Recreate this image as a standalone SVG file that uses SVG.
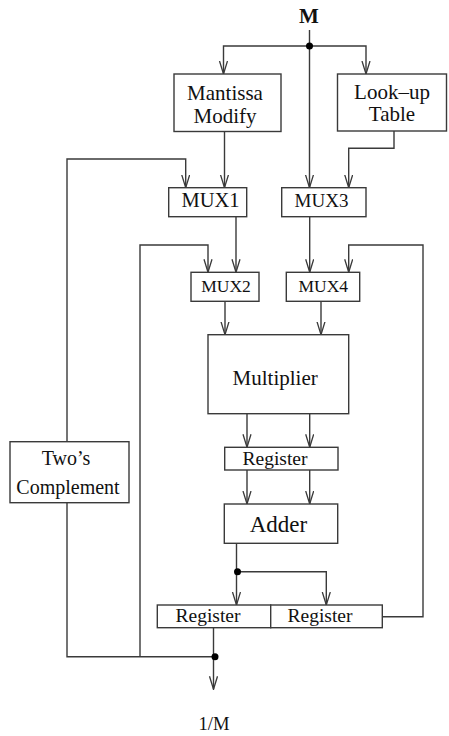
<svg xmlns="http://www.w3.org/2000/svg" width="449" height="736" viewBox="0 0 449 736">
<style>
.box{fill:#fff;stroke:#3a3a3a;stroke-width:1.4}
.wire{fill:none;stroke:#3a3a3a;stroke-width:1.4}
.t{font-family:"Liberation Serif","Times New Roman",serif;fill:#111;text-anchor:middle}
.dot{fill:#000}
</style>
<defs>
<marker id="arr" markerUnits="userSpaceOnUse" markerWidth="14" markerHeight="10" refX="13" refY="4.5" orient="auto" viewBox="0 0 14 10">
<path d="M0,0.5 L13,4.5 L0,8.5" fill="none" stroke="#3a3a3a" stroke-width="1.3"/>
</marker>
</defs>
<rect width="449" height="736" fill="#fff"/>
<g id="connectors">
<path class="wire" d="M309.5,30 V187.7" marker-end="url(#arr)"/>
<path class="wire" d="M309.5,46 H223.5 V74" marker-end="url(#arr)"/>
<path class="wire" d="M309.5,46 H366 V74" marker-end="url(#arr)"/>
<path class="wire" d="M224.5,131.5 V187.7" marker-end="url(#arr)"/>
<path class="wire" d="M394,131 V148.3 H348.7 V187.7" marker-end="url(#arr)"/>
<path class="wire" d="M67,441.7 V159 H185.7 V187.7" marker-end="url(#arr)"/>
<path class="wire" d="M67,502.7 V656.7 H215"/>
<path class="wire" d="M236,216.7 V272.3" marker-end="url(#arr)"/>
<path class="wire" d="M309.7,216.7 V272.3" marker-end="url(#arr)"/>
<path class="wire" d="M140,656.7 V245 H208 V272.3" marker-end="url(#arr)"/>
<path class="wire" d="M382.3,616.7 H423 V245 H348.7 V272.3" marker-end="url(#arr)"/>
<path class="wire" d="M225,301.3 V334.7" marker-end="url(#arr)"/>
<path class="wire" d="M321,301.3 V334.7" marker-end="url(#arr)"/>
<path class="wire" d="M247,413.7 V447.3" marker-end="url(#arr)"/>
<path class="wire" d="M309.7,413.7 V447.3" marker-end="url(#arr)"/>
<path class="wire" d="M247,470 V504" marker-end="url(#arr)"/>
<path class="wire" d="M309.7,470 V504" marker-end="url(#arr)"/>
<path class="wire" d="M236.5,543.3 V605" marker-end="url(#arr)"/>
<path class="wire" d="M236.5,571.7 H326.3 V605" marker-end="url(#arr)"/>
<path class="wire" d="M213.5,627.7 V689.3" marker-end="url(#arr)"/>
<circle class="dot" cx="309.5" cy="46" r="3.5"/>
<circle class="dot" cx="237.5" cy="571.7" r="3.5"/>
<circle class="dot" cx="215" cy="656.7" r="3.5"/>
</g>
<g id="input-M"><text class="t" x="309" y="23" font-size="21" font-weight="bold">M</text></g>
<g id="mantissa-modify">
<rect class="box" x="174" y="74" width="107" height="57.5"/>
<text class="t" x="225" y="100" font-size="21">Mantissa</text>
<text class="t" x="225" y="123" font-size="21">Modify</text>
</g>
<g id="lookup-table">
<rect class="box" x="337.5" y="74" width="109" height="57"/>
<text class="t" x="392" y="98.5" font-size="21">Look–up</text>
<text class="t" x="392" y="120.5" font-size="21">Table</text>
</g>
<g id="mux1">
<rect class="box" x="168.7" y="187.7" width="78" height="29"/>
<text class="t" x="210.5" y="206.7" font-size="20.5">MUX1</text>
</g>
<g id="mux3">
<rect class="box" x="281.7" y="187.7" width="84.3" height="29"/>
<text class="t" x="321.5" y="206.7" font-size="19">MUX3</text>
</g>
<g id="mux2">
<rect class="box" x="191" y="272.3" width="68" height="29"/>
<text class="t" x="226" y="291.7" font-size="17.5">MUX2</text>
</g>
<g id="mux4">
<rect class="box" x="286.3" y="272.3" width="73.4" height="29"/>
<text class="t" x="323.3" y="291.7" font-size="17.5">MUX4</text>
</g>
<g id="multiplier">
<rect class="box" x="208" y="334.7" width="140.7" height="79"/>
<text class="t" x="275.2" y="385" font-size="21">Multiplier</text>
</g>
<g id="register-mid">
<rect class="box" x="224.7" y="447.3" width="113.3" height="22.7"/>
<text class="t" x="275" y="464.5" font-size="19.5">Register</text>
</g>
<g id="adder">
<rect class="box" x="224.3" y="504" width="113.4" height="39.3"/>
<text class="t" x="278.5" y="532.3" font-size="23">Adder</text>
</g>
<g id="twos-complement">
<rect class="box" x="10" y="441.7" width="119" height="61"/>
<text class="t" x="66" y="465" font-size="20">Two’s</text>
<text class="t" x="68" y="494" font-size="20">Complement</text>
</g>
<g id="register-left">
<rect class="box" x="157.3" y="605" width="113.4" height="22.7"/>
<text class="t" x="208" y="622.3" font-size="19.5">Register</text>
</g>
<g id="register-right">
<rect class="box" x="270.7" y="605" width="111.6" height="22.7"/>
<text class="t" x="320" y="622.3" font-size="19.5">Register</text>
</g>
<g id="output-label"><text class="t" x="214" y="730" font-size="18.6">1/M</text></g>
</svg>
